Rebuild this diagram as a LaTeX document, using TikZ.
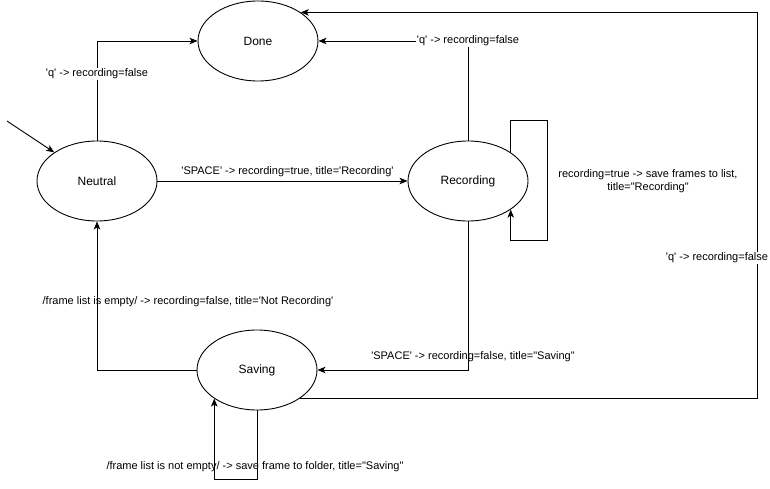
\documentclass[tikz,border=0pt]{standalone}
\usepackage{fontspec}
% plain family: keeps straight quotes as typed
\newfontfamily\diagfont{Liberation Sans}
\usetikzlibrary{shapes.geometric,arrows.meta}
\begin{document}
\begin{tikzpicture}[x=1pt,y=-1pt,
  state/.style={draw, ellipse, line width=0.9pt, minimum width=120pt, minimum height=80pt,
    inner sep=0pt, font=\diagfont\fontsize{12}{14}\selectfont},
  arr/.style={line width=0.9pt, -{Stealth[length=8pt,width=6.5pt,inset=2pt]}},
  lbl/.style={font=\diagfont\fontsize{11}{13}\selectfont, inner sep=1pt, text=black},
  lblbg/.style={lbl, fill=white}]
\useasboundingbox (0,0) rectangle (770,489);

% states
\node[state] (done) at (258,41) {Done};
\node[state] (neu) at (97,181) {Neutral};
\node[state] (rec) at (468,181) {Recording};
\node[state] (sav) at (257,370) {Saving};

% helper points for the free ends and loop corners
\coordinate (init) at (7,121);
\coordinate (rl1) at (547,120);
\coordinate (rl2) at (547,240);
\coordinate (sl) at (257,479);
\coordinate (bigx) at (757,0);

% start arrow
\draw[arr] (init) -- (neu.north west);

% Neutral -> Done
\draw[arr] (neu.north) |- node[lblbg, pos=0.335] {'q' -> recording=false} (done.west);

% Neutral -> Recording
\draw[arr] (neu.east) -- (rec.west);
\node[lbl] (lsp) at (287.5,172) {'SPACE' -> recording=true, title='Recording'};

% Recording -> Done
\draw[arr] (rec.north) |- node[lblbg, pos=0.5] {'q' -> recording=false} (done.east);

% Recording self loop
\draw[arr] (rec.north east) |- (rl1) -- (rl2) -| (rec.south east);
\node[lbl, align=center] (lrl) at (648,181) {recording=true -> save frames to list,\\title="Recording"};

% Recording -> Saving
\draw[arr] (rec.south) |- (sav.east);
\node[lbl] (lrs) at (473,357) {'SPACE' -> recording=false, title="Saving"};

% Saving -> Neutral
\draw[arr] (sav.west) -| (neu.south);
\node[lbl] (lsn) at (188,302) {/frame list is empty/ -> recording=false, title='Not Recording'};

% Saving self loop
\draw[arr] (sav.south) -- (sl) -| (sav.south west);
\node[lbl] (lsl) at (255,467) {/frame list is not empty/ -> save frame to folder, title="Saving"};

% Saving -> Done
\draw[arr] (sav.south east) -- (sav.south east -| bigx) -- (bigx |- done.north east) -- (done.north east);
\node[lblbg] (lsd) at (717,258) {'q' -> recording=false};
\end{tikzpicture}
\end{document}
